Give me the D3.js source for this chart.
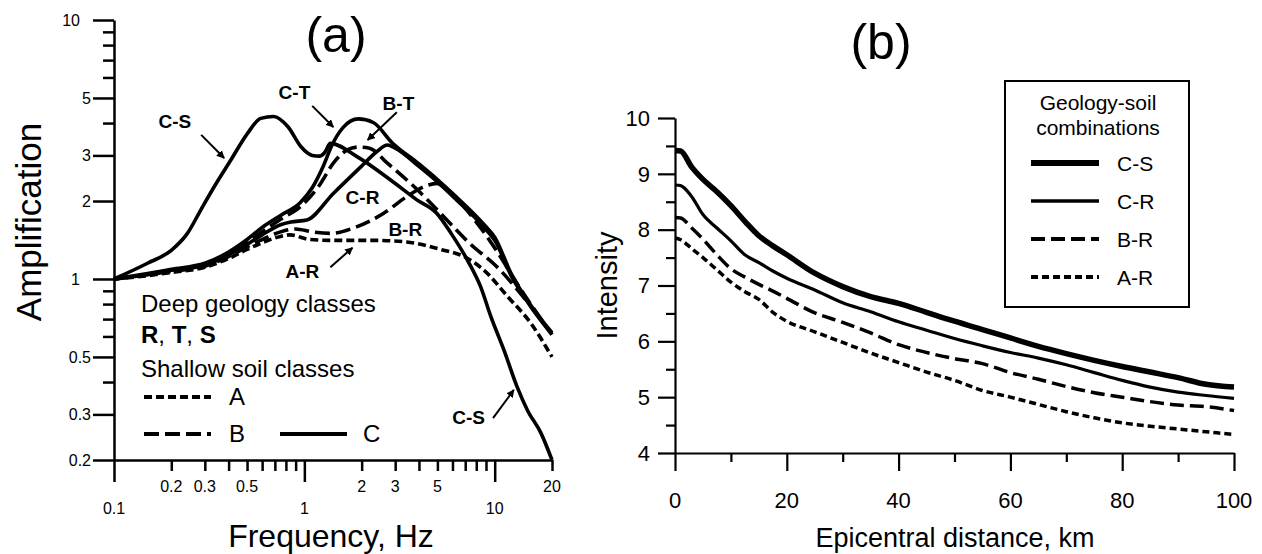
<!DOCTYPE html>
<html><head><meta charset="utf-8">
<script src="https://cdn.jsdelivr.net/npm/d3@7"></script>
<style>
body{margin:0;background:#fff}
svg{display:block;background:#fff}
text{font-family:"Liberation Sans",Arial,Helvetica,sans-serif;fill:#000}
</style>
</head><body>
<svg id="c" width="1262" height="554"></svg>
<script>
// ---------- Panel (a): amplification spectra ----------
const freqCS = [0.1,0.15,0.2,0.243,0.286,0.336,0.411,0.503,0.59,0.69,0.82,0.96,1.1,1.2,1.28,1.37,1.9,2.84,3.9,4.97,5.9,7.2,8.45,9.55,11.2,13.1,14.9,17.5,20];
const ampCS  = [1.0,1.15,1.29,1.5,1.85,2.27,2.88,3.65,4.17,4.24,3.87,3.24,3.0,2.98,3.08,3.34,2.96,2.41,2.02,1.79,1.5,1.18,0.93,0.715,0.53,0.384,0.31,0.254,0.2];
const freqCT = [0.1,0.15,0.2,0.3,0.4,0.5,0.6,0.75,0.95,1.1,1.25,1.4,1.6,1.92,2.3,2.9,4.0,5.0,6.3,8.8,10,12.2,15.5,20];
const ampCT  = [1.0,1.05,1.09,1.15,1.27,1.42,1.58,1.76,1.97,2.25,2.7,3.3,3.85,4.15,4.02,3.35,2.78,2.42,2.07,1.62,1.45,1.05,0.79,0.62];
const freqBT = [0.1,0.15,0.2,0.3,0.4,0.5,0.6,0.75,0.95,1.2,1.42,1.68,1.92,2.2,2.73,3.9,5.4,7.4,10.2,14.2,20];
const ampBT  = [1.0,1.04,1.08,1.14,1.25,1.38,1.52,1.70,1.90,2.3,2.8,3.15,3.23,3.2,2.8,2.22,1.74,1.37,1.12,0.85,0.61];
const freqCR = [0.1,0.15,0.2,0.3,0.4,0.5,0.6,0.75,0.85,1.03,1.42,1.98,2.4,2.73,3.0,4.0,5.0,6.3,8.8,10,12.2,15.5,20];
const ampCR  = [1.0,1.04,1.08,1.13,1.24,1.36,1.48,1.62,1.66,1.69,2.14,2.71,3.1,3.29,3.2,2.72,2.37,2.02,1.58,1.41,1.03,0.78,0.61];
const freqBR = [0.1,0.15,0.2,0.3,0.4,0.5,0.6,0.75,0.9,1.1,1.37,1.88,2.6,3.45,4.3,4.97,5.6,8.1,10.2,13.1,20];
const ampBR  = [1.0,1.04,1.07,1.12,1.22,1.33,1.42,1.52,1.56,1.52,1.50,1.59,1.79,2.08,2.28,2.34,2.21,1.64,1.29,0.96,0.61];
const freqAR = [0.1,0.15,0.2,0.3,0.4,0.5,0.6,0.75,0.84,1.07,1.37,2.3,3.45,5.2,6.9,8.8,11.7,15.5,20];
const ampAR  = [1.0,1.03,1.06,1.11,1.2,1.3,1.38,1.46,1.48,1.42,1.41,1.41,1.39,1.30,1.22,1.08,0.855,0.674,0.50];

const ampTicks   = [0.2,0.3,0.4,0.5,0.6,0.7,0.8,0.9,1,2,3,4,5,6,7,8,9,10];
const ampLabels  = [0.2,0.3,0.5,1,2,3,5,10];
const freqTicks  = [0.1,0.2,0.3,0.4,0.5,0.6,0.7,0.8,0.9,1,2,3,4,5,6,7,8,9,10,20];
const freqLabels = [0.1,0.2,0.3,0.5,1,2,3,5,10,20];

// ---------- Panel (b): intensity attenuation ----------
const distance = [0,1,3,5,7.5,10,12.5,15,17.5,20,25,30,35,40,45,50,55,60,65,70,75,80,85,90,95,100];
const intCS = [9.42,9.41,9.12,8.90,8.68,8.43,8.15,7.89,7.71,7.55,7.22,6.98,6.80,6.68,6.52,6.36,6.21,6.06,5.91,5.78,5.66,5.55,5.45,5.35,5.23,5.18];
const intCR = [8.80,8.79,8.59,8.27,8.03,7.80,7.55,7.41,7.26,7.13,6.92,6.69,6.53,6.35,6.20,6.05,5.92,5.80,5.70,5.58,5.44,5.30,5.18,5.09,5.03,4.98];
const intBR = [8.22,8.21,8.03,7.83,7.55,7.30,7.15,7.02,6.90,6.77,6.51,6.34,6.15,5.94,5.80,5.69,5.60,5.44,5.32,5.19,5.08,5.00,4.92,4.86,4.83,4.76];
const intAR = [7.85,7.82,7.66,7.50,7.28,7.06,6.89,6.75,6.52,6.36,6.17,5.98,5.79,5.62,5.45,5.30,5.12,5.00,4.87,4.74,4.63,4.54,4.48,4.43,4.38,4.33];
const intTicks  = [4,4.5,5,5.5,6,6.5,7,7.5,8,8.5,9,9.5,10];
const intLabels = [4,5,6,7,8,9,10];
const distTicks = [0,10,20,30,40,50,60,70,80,90,100];
const distLabels = [0,20,40,60,80,100];
const legendNames = ["C-S","C-R","B-R","A-R"];

// ---------- drawing ----------
const svg = d3.select("#c");
svg.append("rect").attr("width",1262).attr("height",554).attr("fill","#fff");

const defs = svg.append("defs");
defs.append("marker").attr("id","ah").attr("viewBox","0 0 10 10").attr("refX",9).attr("refY",5)
  .attr("markerWidth",4).attr("markerHeight",4).attr("orient","auto").attr("markerUnits","strokeWidth")
  .append("path").attr("d","M0,0L10,5L0,10z").attr("fill","#000");

// Panel (a)
const xL = d3.scaleLog().domain([0.1,20]).range([114,552]);
const yL = d3.scaleLog().domain([0.2,10]).range([460,20]);
const gA = svg.append("g");

const yAxL = gA.append("g").attr("transform",`translate(${xL(0.1)},0)`)
  .call(d3.axisLeft(yL).tickValues(ampTicks).tickFormat("").tickSize(11).tickSizeOuter(0));
yAxL.selectAll(".tick line").attr("x2",d=>ampLabels.includes(d)?-21:-11);
const xAxL = gA.append("g").attr("transform",`translate(0,${yL(0.2)})`)
  .call(d3.axisBottom(xL).tickValues(freqTicks).tickFormat("").tickSize(11).tickSizeOuter(0));
xAxL.selectAll(".tick line").attr("y2",d=>[0.1,1,10].includes(d)?22:11);
[yAxL,xAxL].forEach(a=>{a.selectAll("path,line").attr("stroke","#000").attr("stroke-width",2.5);});

const fmt = d=>String(d);
gA.selectAll(".ylab").data(ampLabels).enter().append("text")
  .attr("x",d=>([1,10].includes(d)?80:91)).attr("y",d=>yL(d)).attr("dy","0.35em")
  .attr("text-anchor","end").style("font-size","16px").text(fmt);
gA.selectAll(".xlab").data(freqLabels).enter().append("text")
  .attr("x",d=>xL(d)).attr("y",d=>([0.1,1,10].includes(d)?514:492))
  .attr("text-anchor","middle").style("font-size","16px").text(fmt);

gA.append("text").attr("transform",`translate(41,222) rotate(-90)`)
  .attr("text-anchor","middle").style("font-size","35px").text("Amplification");
gA.append("text").attr("x",331).attr("y",547).attr("text-anchor","middle").style("font-size","32px").text("Frequency, Hz");
gA.append("text").attr("x",336).attr("y",52).attr("text-anchor","middle").style("font-size","50px").text("(a)");

const lineL = d3.line().x(d=>xL(d[0])).y(d=>yL(d[1])).curve(d3.curveMonotoneX);
const dashB = "15,6", dashA = "8,4";
const curvesA = [
  {f:freqAR,a:ampAR,dash:dashA},
  {f:freqBR,a:ampBR,dash:dashB},
  {f:freqBT,a:ampBT,dash:dashB},
  {f:freqCR,a:ampCR,dash:null},
  {f:freqCT,a:ampCT,dash:null},
  {f:freqCS,a:ampCS,dash:null}
];
curvesA.forEach(c=>{
  gA.append("path").datum(d3.zip(c.f,c.a)).attr("d",lineL).attr("fill","none")
    .attr("stroke","#000").attr("stroke-width",3.6).attr("stroke-dasharray",c.dash)
    .attr("stroke-linejoin","round");
});

// curve annotations (in data coordinates)
const notesA = [
  {t:"C-S",f:0.209,a:3.83},{t:"C-T",f:0.887,a:4.95},{t:"B-T",f:3.12,a:4.49},
  {t:"C-R",f:2.02,a:1.95},{t:"B-R",f:3.39,a:1.47},{t:"A-R",f:0.976,a:1.01},{t:"C-S",f:7.3,a:0.275}
];
notesA.forEach(n=>gA.append("text").attr("x",xL(n.f)).attr("y",yL(n.a)).attr("text-anchor","middle")
  .style("font-size","19px").style("font-weight","bold").text(n.t));
const arrowsA = [
  [[0.287,3.60],[0.379,2.93]],[[1.10,4.66],[1.42,3.86]],[[3.06,4.40],[2.15,3.44]],
  [[1.37,1.11],[1.79,1.32]],[[9.8,0.29],[12.6,0.373]]
];
arrowsA.forEach(p=>gA.append("line").attr("x1",xL(p[0][0])).attr("y1",yL(p[0][1]))
  .attr("x2",xL(p[1][0])).attr("y2",yL(p[1][1])).attr("stroke","#000").attr("stroke-width",2)
  .attr("marker-end","url(#ah)"));

// legend (a)
const lg = gA.append("g");
lg.append("text").attr("x",141).attr("y",312).style("font-size","24px").text("Deep geology classes");
const rts = lg.append("text").attr("x",141).attr("y",343).style("font-size","24px");
rts.append("tspan").style("font-weight","bold").text("R");
rts.append("tspan").text(", ");
rts.append("tspan").style("font-weight","bold").text("T");
rts.append("tspan").text(", ");
rts.append("tspan").style("font-weight","bold").text("S");
lg.append("text").attr("x",141).attr("y",377).style("font-size","24px").text("Shallow soil classes");
[[144,397,dashA,"A",229],[144,434,dashB,"B",229],[280,434,null,"C",363]].forEach(r=>{
  lg.append("line").attr("x1",r[0]).attr("x2",r[0]+67).attr("y1",r[1]).attr("y2",r[1])
    .attr("stroke","#000").attr("stroke-width",4).attr("stroke-dasharray",r[2]);
  lg.append("text").attr("x",r[4]).attr("y",r[1]+8).style("font-size","24px").text(r[3]);
});

// Panel (b)
const xR = d3.scaleLinear().domain([0,100]).range([675,1234]);
const yR = d3.scaleLinear().domain([4,10]).range([453,118]);
const gB = svg.append("g");
const yAxR = gB.append("g").attr("transform",`translate(${xR(0)},0)`)
  .call(d3.axisLeft(yR).tickValues(intTicks).tickFormat("").tickSize(9).tickSizeOuter(0));
yAxR.selectAll(".tick line").attr("x2",d=>Number.isInteger(d)?-17:-9);
const xAxR = gB.append("g").attr("transform",`translate(0,${yR(4)})`)
  .call(d3.axisBottom(xR).tickValues(distTicks).tickFormat("").tickSize(9).tickSizeOuter(0));
xAxR.selectAll(".tick line").attr("y2",d=>distLabels.includes(d)?18:9);
[yAxR,xAxR].forEach(a=>{a.selectAll("path,line").attr("stroke","#000").attr("stroke-width",2.2);});

gB.selectAll(".yl").data(intLabels).enter().append("text").attr("x",650).attr("y",d=>yR(d)).attr("dy","0.35em")
  .attr("text-anchor","end").style("font-size","22px").text(fmt);
gB.selectAll(".xl").data(distLabels).enter().append("text").attr("x",d=>xR(d)).attr("y",508)
  .attr("text-anchor","middle").style("font-size","22px").text(fmt);
gB.append("text").attr("transform",`translate(617,${(118+453)/2}) rotate(-90)`)
  .attr("text-anchor","middle").style("font-size","29px").text("Intensity");
gB.append("text").attr("x",955).attr("y",547).attr("text-anchor","middle").style("font-size","27px").text("Epicentral distance, km");
gB.append("text").attr("x",881).attr("y",59).attr("text-anchor","middle").style("font-size","50px").text("(b)");

const lineR = d3.line().x(d=>xR(d[0])).y(d=>yR(d[1])).curve(d3.curveMonotoneX);
const stylesR = [
  {v:intCS,w:5.5,dash:null},
  {v:intCR,w:3.2,dash:null},
  {v:intBR,w:3.5,dash:"14,6"},
  {v:intAR,w:3.5,dash:"7,4"}
];
stylesR.forEach(s=>{
  gB.append("path").datum(d3.zip(distance,s.v)).attr("d",lineR).attr("fill","none")
    .attr("stroke","#000").attr("stroke-width",s.w).attr("stroke-dasharray",s.dash);
});

// legend (b)
const lb = gB.append("g");
lb.append("rect").attr("x",1005).attr("y",81).attr("width",184).attr("height",226)
  .attr("fill","#fff").attr("stroke","#000").attr("stroke-width",2);
lb.append("text").attr("x",1098).attr("y",110).attr("text-anchor","middle").style("font-size","21px").text("Geology-soil");
lb.append("text").attr("x",1098).attr("y",135).attr("text-anchor","middle").style("font-size","21px").text("combinations");
legendNames.forEach((n,i)=>{
  const y = 163 + i*38;
  lb.append("line").attr("x1",1031).attr("x2",1099).attr("y1",y).attr("y2",y)
    .attr("stroke","#000").attr("stroke-width",stylesR[i].w+0.5).attr("stroke-dasharray",stylesR[i].dash);
  lb.append("text").attr("x",1117).attr("y",y+8).style("font-size","21px").text(n);
});
</script>
</body></html>
